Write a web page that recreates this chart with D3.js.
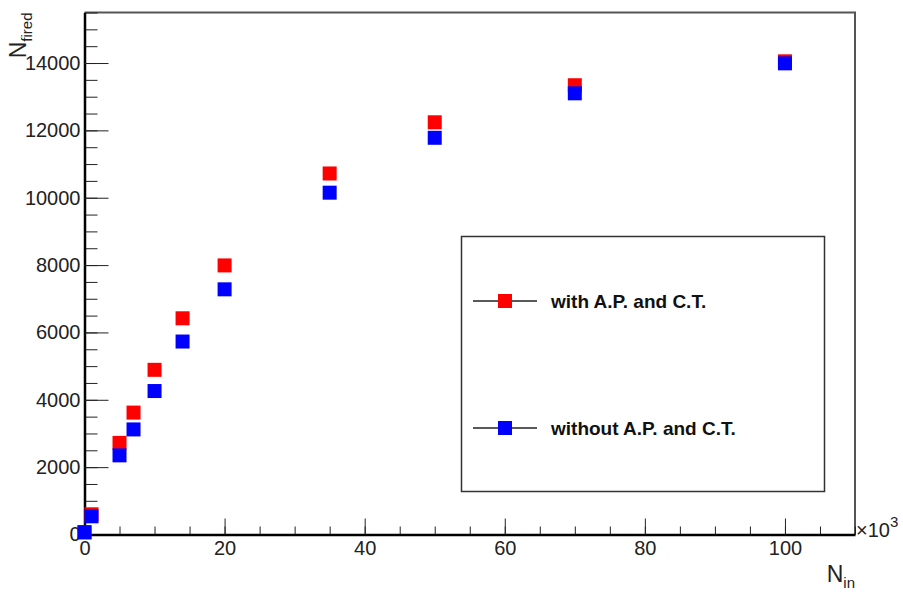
<!DOCTYPE html>
<html>
<head>
<meta charset="utf-8">
<script src="https://cdn.jsdelivr.net/npm/d3@7"></script>
<style>
  body { margin: 0; background: #fff; }
  svg { display: block; font-family: "Liberation Sans", Arial, sans-serif; }
</style>
</head>
<body>
<svg id="chart" width="903" height="596"></svg>
<script>
// N_in values (in units of 10^3)
const nIn = [0, 1, 5, 7, 10, 14, 20, 35, 50, 70, 100];
// N_fired with afterpulse and cross-talk
const withAPCT = [60, 600, 2720, 3620, 4890, 6420, 7990, 10720, 12240, 13340, 14050];
// N_fired without afterpulse and cross-talk
const withoutAPCT = [70, 540, 2350, 3120, 4260, 5730, 7280, 10150, 11780, 13100, 13990];

const xMajor = [0, 20, 40, 60, 80, 100];
const yMajor = [0, 2000, 4000, 6000, 8000, 10000, 12000, 14000];

const series = [
  { name: "with A.P. and C.T.", color: "#ff0000", values: withAPCT },
  { name: "without A.P. and C.T.", color: "#0000ff", values: withoutAPCT }
];

const svg = d3.select("#chart");
const mLeft = 84.5, mRight = 855, mTop = 12.5, mBottom = 534.5;

const x = d3.scaleLinear().domain([0, 110]).range([mLeft, mRight]);
const y = d3.scaleLinear().domain([0, 15500]).range([mBottom, mTop]);

// frame (top & right)
svg.append("path")
  .attr("d", `M${mLeft},${mTop}H${mRight}V${mBottom}`)
  .attr("fill", "none")
  .attr("stroke", "#555")
  .attr("stroke-width", 2);

// minor ticks
svg.append("g")
  .attr("transform", `translate(${mLeft},0)`)
  .call(d3.axisLeft(y).tickValues(d3.range(0, 15501, 500)).tickSize(-13).tickSizeOuter(0).tickFormat(""))
  .call(g => g.select(".domain").remove())
  .selectAll("line").attr("stroke", "#222");

svg.append("g")
  .attr("transform", `translate(0,${mBottom})`)
  .call(d3.axisBottom(x).tickValues(d3.range(0, 111, 5)).tickSize(-8).tickSizeOuter(0).tickFormat(""))
  .call(g => g.select(".domain").remove())
  .selectAll("line").attr("stroke", "#222");

// major axes
const yAxis = svg.append("g")
  .attr("transform", `translate(${mLeft},0)`)
  .call(d3.axisLeft(y).tickValues(yMajor).tickSize(-24).tickSizeOuter(0).tickPadding(4).tickFormat(d3.format("d")));

const xAxis = svg.append("g")
  .attr("transform", `translate(0,${mBottom})`)
  .call(d3.axisBottom(x).tickValues(xMajor).tickSize(-16).tickSizeOuter(0).tickPadding(6).tickFormat(d3.format("d")));

[yAxis, xAxis].forEach(g => {
  g.select(".domain").attr("stroke", "#000").attr("stroke-width", 2.5);
  g.selectAll(".tick line").attr("stroke", "#222");
  g.selectAll("text").attr("font-size", 20).attr("fill", "#222").attr("font-family", "Liberation Sans, Arial, sans-serif");
});
xAxis.selectAll("text").attr("dy", "0.72em");

// x10^3 exponent label
const expo = svg.append("text")
  .attr("x", 856).attr("y", 537)
  .attr("font-size", 20).attr("fill", "#222");
expo.append("tspan").text("×10");
expo.append("tspan").attr("dy", -10).attr("font-size", 15).text("3");

// axis titles
const xt = svg.append("text")
  .attr("x", mRight).attr("y", 582)
  .attr("text-anchor", "end")
  .attr("font-size", 23).attr("fill", "#222");
xt.append("tspan").text("N");
xt.append("tspan").attr("dy", 6).attr("font-size", 15).text("in");

const yt = svg.append("text")
  .attr("transform", `translate(26,${mTop}) rotate(-90)`)
  .attr("text-anchor", "end")
  .attr("font-size", 23).attr("fill", "#222");
yt.append("tspan").text("N");
yt.append("tspan").attr("dy", 6).attr("font-size", 15).text("fired");

// markers
const ms = 14;
series.forEach(s => {
  svg.append("g").selectAll("rect")
    .data(nIn.map((d, i) => [d, s.values[i]]))
    .join("rect")
    .attr("x", d => x(d[0]) - ms / 2)
    .attr("y", d => y(d[1]) - ms / 2)
    .attr("width", ms).attr("height", ms)
    .attr("fill", s.color);
});

// legend
const lg = svg.append("g");
lg.append("rect")
  .attr("x", 461.5).attr("y", 236.5)
  .attr("width", 363).attr("height", 255)
  .attr("fill", "#fff").attr("stroke", "#333").attr("stroke-width", 1.5);

const ly = d3.scalePoint().domain(series.map(s => s.name)).range([301, 428]);
series.forEach(s => {
  const gy = ly(s.name);
  lg.append("line")
    .attr("x1", 473).attr("x2", 537).attr("y1", gy).attr("y2", gy)
    .attr("stroke", "#222").attr("stroke-width", 1.4);
  lg.append("rect")
    .attr("x", 505 - ms / 2).attr("y", gy - ms / 2)
    .attr("width", ms).attr("height", ms)
    .attr("fill", s.color);
  lg.append("text")
    .attr("x", 551).attr("y", gy + 7)
    .attr("font-size", 19).attr("font-weight", "bold").attr("fill", "#111")
    .text(s.name);
});
</script>
</body>
</html>
